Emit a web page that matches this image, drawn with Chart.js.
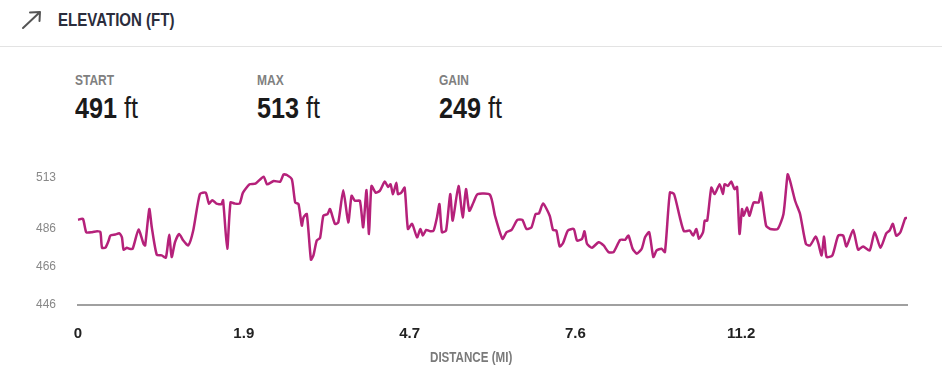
<!DOCTYPE html>
<html>
<head>
<meta charset="utf-8">
<script src="https://cdn.jsdelivr.net/npm/chart.js@4.4.1/dist/chart.umd.min.js"></script>
<style>
  html, body { margin: 0; padding: 0; background: #fff; }
  body { width: 950px; height: 376px; position: relative; overflow: hidden;
         font-family: "Liberation Sans", Arial, sans-serif; }
  .abs { position: absolute; white-space: nowrap; line-height: 1; transform-origin: 0 0; }
  .cond { transform: scaleX(0.8); }
  .hdr { left: 58px; top: 12px; font-size: 17.5px; font-weight: bold; color: #2b2d3c; transform: scaleX(0.86); }
  .sep { left: 0; top: 46px; width: 942px; height: 1px; background: #e3e3e3; }
  .lbl { top: 71.5px; font-size: 15px; font-weight: bold; color: #808080; }
  .num { top: 93px; font-size: 30px; color: #1a1a1a; transform: scaleX(0.84); }
  .num b { font-weight: bold; }
  .xt { left: 430px; top: 350px; font-size: 14.5px; font-weight: bold; color: #7a7a7a; }
  #wrap { position: absolute; left: 0; top: 140px; width: 950px; height: 236px; }
</style>
</head>
<body>
<svg class="abs" style="left:18px;top:8px" width="28" height="26" viewBox="0 0 28 26">
  <path d="M5 20 L22 4 M12 4.5 L22 4 L21.5 13" fill="none" stroke="#555" stroke-width="2" stroke-linecap="round" stroke-linejoin="round"/>
</svg>
<div class="abs hdr">ELEVATION (FT)</div>
<div class="abs sep"></div>

<div class="abs lbl cond" style="left:75px">START</div>
<div class="abs num" style="left:75px"><b>491</b> ft</div>
<div class="abs lbl cond" style="left:257px">MAX</div>
<div class="abs num" style="left:257px"><b>513</b> ft</div>
<div class="abs lbl cond" style="left:439px">GAIN</div>
<div class="abs num" style="left:439px"><b>249</b> ft</div>

<div id="wrap"><canvas id="c"></canvas></div>
<div class="abs xt cond">DISTANCE (MI)</div>

<script>
// Distance tick labels (shown at evenly spaced positions along the track)
const distanceTicks = ['0', '1.9', '4.7', '7.6', '11.2'];
const distanceTickPositions = [0, 20, 40, 60, 80];
// Elevation axis tick labels (ft)
const elevationTicks = [446, 466, 486, 513];

// Track progress (% of samples along route)
const progress = [
  0,0.6,1.0,1.7,2.3,2.7,2.9,3.3,3.7,3.9,4.5,5.0,5.3,5.5,5.9,6.2,6.6,7.3,7.9,8.1,
  8.6,8.9,9.5,10.1,10.6,11.0,11.3,11.7,12.2,12.7,13.3,13.9,14.7,15.4,15.8,16.2,16.7,17.3,17.5,18.0,
  18.4,18.9,19.5,19.9,20.7,21.4,22.4,22.8,23.6,24.4,
  24.8,25.2,25.8,26.2,26.6,27.0,27.2,27.6,28.1,28.4,28.8,29.2,29.6,30.1,30.4,31.0,31.4,32.0,32.6,33.0,
  33.4,34.0,34.4,34.8,35.1,35.4,35.9,36.4,37.0,37.4,37.7,38.0,38.4,38.6,39.0,39.4,39.8,40.3,40.9,41.3,
  41.6,42.0,42.5,42.9,43.3,43.6,43.9,44.4,44.9,45.2,45.9,46.4,46.8,47.2,47.7,48.2,49.7,
  50.3,51.2,51.7,52.3,53.0,53.6,54.1,54.7,55.2,55.6,56.1,56.9,57.3,57.7,58.1,58.5,59.1,59.8,60.2,60.8,
  61.1,61.4,62.0,62.8,63.4,64.0,64.6,65.4,66.0,66.4,66.9,67.4,68.0,68.4,68.9,69.4,69.8,70.4,70.8,71.4,
  71.9,72.6,73.1,73.8,74.2,74.6,
  74.9,75.4,75.6,75.9,76.4,76.8,77.4,77.8,78.0,78.4,78.8,79.2,79.5,79.8,80.1,80.3,80.7,81.0,81.5,82.1,
  82.4,83.0,83.5,84.4,85.1,85.6,85.9,86.5,87.1,87.8,88.3,89.0,89.3,89.7,90.0,90.3,91.0,91.7,92.3,92.7,
  93.5,94.1,94.7,95.5,96.1,96.8,97.5,97.9,98.3,98.7,99.2,99.8,100
];

// Elevation (ft)
const elevation = [
  491,491.4,484.4,484.4,484.9,484.4,476.2,476.2,480.0,482.6,483.2,483.8,481.7,475.2,476.2,475.7,475.7,485.8,478.3,477.4,
  496.6,487.0,472.5,472.2,471.0,483.0,471.3,479.1,483.5,480.0,477.4,485.3,504.5,505.3,499.5,501.3,499.5,499.2,501.3,475.7,
  500.1,499.5,499.5,505.3,509.7,510.0,513.7,509.7,511.4,511.1,
  514.9,514.6,512.3,500.1,499.2,487.9,492.2,494.0,469.9,472.2,480.0,481.4,493.1,494.0,496.6,488.8,489.6,506.6,489.6,503.6,
  501.0,501.0,487.0,506.6,483.5,508.8,505.3,506.2,511.1,508.3,509.7,504.5,510.5,504.5,505.3,507.9,486.1,488.8,481.7,486.1,
  482.6,485.6,484.9,485.3,492.2,499.2,484.4,485.3,504.5,490.5,508.8,492.2,507.1,495.7,500.1,504.5,504.1,
  493.1,480.9,484.4,485.6,490.9,490.9,486.1,487.0,494.0,494.3,499.5,493.1,485.6,485.3,476.9,478.6,485.3,486.1,480.0,480.9,
  484.9,478.3,476.2,479.1,477.4,473.9,473.9,480.4,480.4,482.6,475.7,473.1,475.7,481.7,484.4,471.3,474.8,475.7,473.9,505.3,
  504.5,492.2,484.9,485.3,482.6,486.1,
  480.9,484.4,490.5,490.5,507.9,504.5,509.7,504.5,509.7,508.8,511.1,507.1,508.3,483.5,496.6,493.1,497.5,493.1,500.1,500.1,
  505.3,487.9,486.1,486.1,494.0,514.9,511.4,501.0,494.0,478.3,477.4,482.1,478.6,472.2,482.1,471.3,472.2,482.6,482.6,476.9,
  485.6,475.2,476.9,474.8,484.4,476.2,483.8,485.3,488.8,482.6,484.4,491.9,491.9
];

const points = progress.map((p, i) => ({ x: p, y: elevation[i] }));

new Chart(document.getElementById('c'), {
  type: 'line',
  data: {
    datasets: [{
      data: points,
      borderColor: '#b5217a',
      borderWidth: 2.5,
      pointRadius: 0,
      tension: 0.2,
      fill: false,
      clip: false
    }]
  },
  options: {
    responsive: true,
    maintainAspectRatio: false,
    animation: false,
    layout: { padding: { top: 38, left: 0, right: 43, bottom: 0 } },
    plugins: { legend: { display: false }, tooltip: { enabled: false } },
    scales: {
      x: {
        type: 'linear',
        min: 0, max: 100,
        grid: { display: false, drawTicks: false },
        border: { display: true, color: '#a0a0a0', width: 2 },
        afterBuildTicks: s => { s.ticks = distanceTickPositions.map(v => ({ value: v })); },
        afterFit: s => { s.height = 71; },
        ticks: {
          padding: 20,
          maxRotation: 0,
          autoSkip: false,
          color: '#222',
          font: { family: 'Liberation Sans, Arial, sans-serif', size: 15, weight: 'bold' },
          callback: (v, i) => distanceTicks[i]
        }
      },
      y: {
        min: 446, max: 513,
        grid: { display: false, drawTicks: false },
        border: { display: false },
        afterBuildTicks: s => { s.ticks = elevationTicks.map(v => ({ value: v })); },
        afterFit: s => { s.width = 78; },
        ticks: {
          padding: 22,
          color: '#888',
          font: { family: 'Liberation Sans, Arial, sans-serif', size: 12 },
          callback: v => String(v)
        }
      }
    }
  }
});
</script>
</body>
</html>
